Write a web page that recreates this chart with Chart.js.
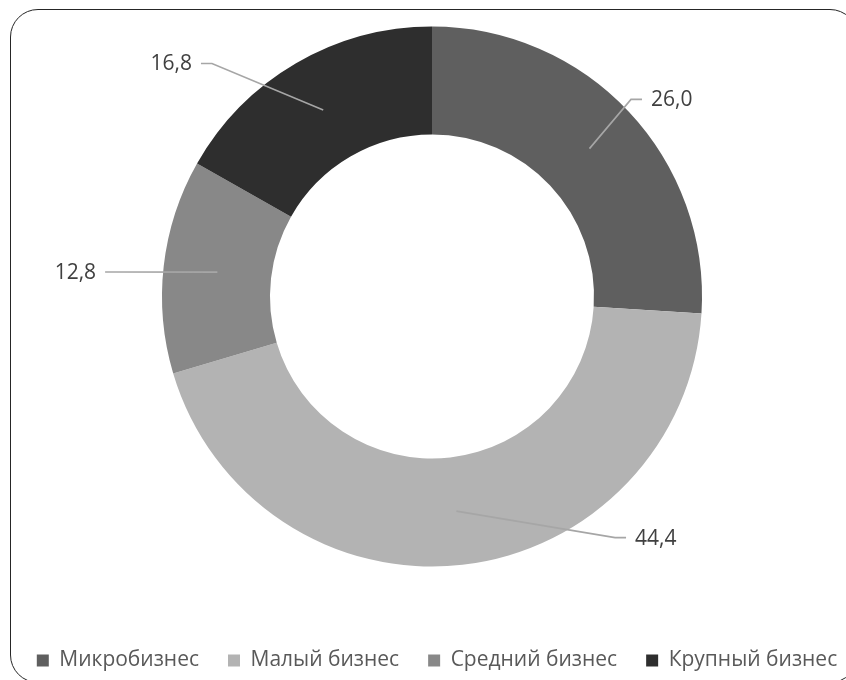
<!DOCTYPE html>
<html>
<head>
<meta charset="utf-8">
<script src="https://cdn.jsdelivr.net/npm/chart.js@4.4.0/dist/chart.umd.min.js"></script>
<style>
  html, body { margin: 0; padding: 0; background: #fff; overflow: hidden; }
  #frame {
    position: absolute; left: 10px; top: 9px; width: 848px; height: 674px;
    border: 1.5px solid #262626; border-radius: 28px; box-sizing: border-box;
  }
  #wrap { position: absolute; left: -48px; top: -28px; width: 960px; height: 719px; }
</style>
</head>
<body>
<div id="frame"></div>
<div id="wrap"><canvas id="chart" width="960" height="719"></canvas></div>
<script>
const categories = ["Микробизнес", "Малый бизнес", "Средний бизнес", "Крупный бизнес"];
const shares = [26.0, 44.4, 12.8, 16.8];
const sliceColors = ["#5f5f5f", "#b3b3b3", "#888888", "#2e2e2e"];

// where each leader line bends, as a fraction of the outer radius from the centre
const elbows = [[0.737, -0.730], [0.678, 0.893], [-1.170, -0.091], [-0.815, -0.863]];

const ctx = document.getElementById("chart").getContext("2d");

// leader lines + value labels, Excel style
const leaderLabels = {
  id: "leaderLabels",
  afterLayout(chart) {
    // legend sits a little right of the ring centre in the original
    chart.legend.left += 5;
    chart.legend.right += 5;
  },
  afterDatasetsDraw(chart) {
    const c = chart.ctx;
    const arcs = chart.getDatasetMeta(0).data;
    c.save();
    c.font = "21px 'Open Sans'";
    c.textBaseline = "middle";
    arcs.forEach((arc, i) => {
      const p = arc.getCenterPoint();
      const R = arc.outerRadius;
      const ex = arc.x + elbows[i][0] * R;
      const ey = arc.y + elbows[i][1] * R;
      const dir = ex > arc.x ? 1 : -1;
      c.strokeStyle = "#a6a6a6";
      c.lineWidth = 1.6;
      c.beginPath();
      c.moveTo(p.x, p.y);
      c.lineTo(ex, ey);
      c.lineTo(ex + dir * 11, ey);
      c.stroke();
      c.fillStyle = "#404040";
      c.textAlign = dir > 0 ? "left" : "right";
      c.fillText(shares[i].toFixed(1).replace(".", ","), ex + dir * 20, ey + 1);
    });
    c.restore();
  },
};

new Chart(ctx, {
  type: "doughnut",
  data: {
    labels: categories,
    datasets: [
      {
        data: shares,
        backgroundColor: sliceColors,
        borderWidth: 0,
        radius: 270,
      },
    ],
  },
  options: {
    responsive: false,
    animation: false,
    cutout: "60%",
    layout: { padding: { top: 0, left: 0, right: 0, bottom: 10 } },
    plugins: {
      tooltip: { enabled: false },
      legend: {
        position: "bottom",
        labels: {
          boxWidth: 12,
          boxHeight: 12,
          padding: 29,
          color: "#595959",
          font: { family: "'Open Sans'", size: 21 },
        },
      },
    },
  },
  plugins: [leaderLabels],
});
</script>
</body>
</html>
